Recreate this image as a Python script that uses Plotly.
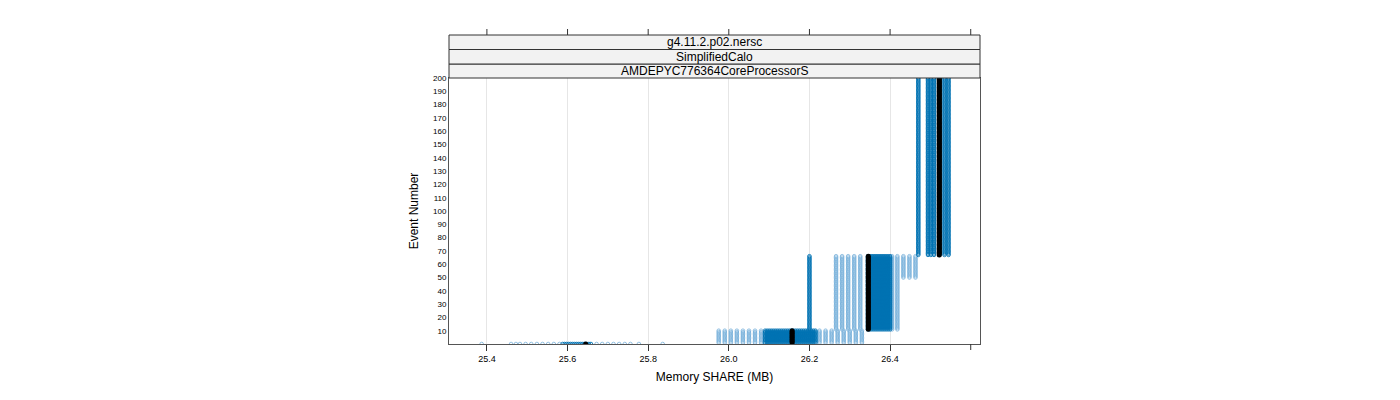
import plotly.graph_objects as go

# ---- data (Event Number vs Memory SHARE in MB) ----
# Each block: every event in [first, last] has a point at each listed x level.
# "sparse" levels are the thinly populated memory values (drawn lighter),
# "dense" levels are the heavily populated ones.
block_a_events = [0, 0]
block_a_sparse_x = [25.387, 25.460, 25.472, 25.482, 25.496, 25.510, 25.524, 25.538,
                    25.552, 25.566, 25.580, 25.672, 25.686, 25.700, 25.714, 25.728,
                    25.742, 25.756, 25.777, 25.836]
block_a_dense_x = [25.588, 25.593, 25.598, 25.603, 25.608, 25.613, 25.618, 25.623,
                   25.628, 25.633, 25.638, 25.643, 25.648, 25.653, 25.658]

block_b_events = [1, 10]
block_b_sparse_x = [25.975, 25.990, 26.005, 26.020, 26.035, 26.050, 26.065, 26.080,
                    26.225, 26.240, 26.255, 26.270, 26.285, 26.300, 26.315, 26.330]
block_b_dense_x = [26.090, 26.095, 26.100, 26.105, 26.110, 26.115, 26.120, 26.125,
                   26.130, 26.135, 26.140, 26.145, 26.150, 26.155, 26.160, 26.165,
                   26.170, 26.175, 26.180, 26.185, 26.190, 26.195, 26.200, 26.205,
                   26.210, 26.215]

block_c_events = [11, 66]
block_c_sparse_x = [26.266, 26.281, 26.296, 26.311, 26.326, 26.405, 26.418]
block_c_dense_x = [26.200, 26.345, 26.350, 26.355, 26.360, 26.365, 26.370, 26.375,
                   26.380, 26.385, 26.390, 26.395, 26.400]

block_c2_events = [50, 66]
block_c2_sparse_x = [26.433, 26.448, 26.463]

block_d_events = [67, 200]
block_d_dense_x = [26.470, 26.494, 26.501, 26.509, 26.523, 26.535, 26.545]

# medians (black): event range and x value
median_events = [[0, 0], [1, 10], [11, 66], [67, 200]]
median_x = [25.645, 26.157, 26.346, 26.522]

x_ticks = [25.4, 25.6, 25.8, 26.0, 26.2, 26.4]
x_tick_labels = ["25.4", "25.6", "25.8", "26.0", "26.2", "26.4"]
top_ticks = [25.4, 25.6, 25.8, 26.0, 26.2, 26.4, 26.6]
y_ticks = list(range(10, 201, 10))
strip_labels = ["g4.11.2.p02.nersc", "SimplifiedCalo", "AMDEPYC776364CoreProcessorS"]


def expand(blocks):
    xs, ys = [], []
    for (e0, e1), levels in blocks:
        for ev in range(e0, e1 + 1):
            for xv in levels:
                xs.append(xv)
                ys.append(ev)
    return xs, ys


sx, sy = expand([(block_a_events, block_a_sparse_x), (block_b_events, block_b_sparse_x),
                 (block_c_events, block_c_sparse_x), (block_c2_events, block_c2_sparse_x)])
dx, dy = expand([(block_a_events, block_a_dense_x), (block_b_events, block_b_dense_x),
                 (block_c_events, block_c_dense_x), (block_d_events, block_d_dense_x)])
mx, my = expand([(e, [xv]) for e, xv in zip(median_events, median_x)])

BLUE = "#0072B2"
LIGHT = "#78b1da"
fig = go.Figure()
fig.add_trace(go.Scatter(x=sx, y=sy, mode="markers", showlegend=False, cliponaxis=True,
                         marker=dict(symbol="circle-open", size=3.6, color=LIGHT,
                                     line=dict(width=0.8, color=LIGHT))))
fig.add_trace(go.Scatter(x=dx, y=dy, mode="markers", showlegend=False, cliponaxis=True,
                         marker=dict(symbol="circle-open", size=3.6, color=BLUE,
                                     line=dict(width=0.9, color=BLUE))))
fig.add_trace(go.Scatter(x=mx, y=my, mode="markers", showlegend=False, cliponaxis=True,
                         marker=dict(symbol="circle", size=5, color="black")))

L, R, T, B = 449, 980, 78, 344
H = B - T


def py(pix):
    return (B - pix) / H


FONT = "Liberation Sans, Arial, sans-serif"
shapes = []
bounds = [78, 64, 49.5, 35]
for i in range(3):
    shapes.append(dict(type="rect", xref="paper", yref="paper", x0=0, x1=1,
                       y0=py(bounds[i]), y1=py(bounds[i + 1]),
                       fillcolor="#f2f2f2", line=dict(color="#333333", width=1), layer="above"))
for t in top_ticks:
    shapes.append(dict(type="line", xref="x", yref="paper", x0=t, x1=t,
                       y0=py(35), y1=py(29), line=dict(color="#333333", width=1)))
shapes.append(dict(type="line", xref="x", yref="paper", x0=26.6, x1=26.6,
                   y0=0, y1=py(350), line=dict(color="#333333", width=1)))

annotations = []
for i, lab in enumerate(strip_labels):
    annotations.append(dict(text=lab, xref="paper", yref="paper", x=0.5,
                            y=(py(bounds[2 - i]) + py(bounds[3 - i])) / 2,
                            showarrow=False, font=dict(family=FONT, size=12, color="black"),
                            xanchor="center", yanchor="middle"))

fig.update_layout(
    width=1400, height=400,
    margin=dict(l=L, r=1400 - R, t=T, b=400 - B, pad=0),
    paper_bgcolor="white", plot_bgcolor="white",
    font=dict(family=FONT, color="black"),
    shapes=shapes, annotations=annotations,
    xaxis=dict(range=[25.306, 26.623], tickvals=x_ticks, ticktext=x_tick_labels,
               ticks="outside", ticklen=6, tickcolor="#333333",
               tickfont=dict(size=9), showgrid=True, gridcolor="#e6e6e6",
               showline=True, linecolor="#555555", linewidth=1, mirror=True,
               zeroline=False,
               title=dict(text="Memory SHARE (MB)", font=dict(size=12), standoff=9)),
    yaxis=dict(range=[0, 200], tickvals=y_ticks, ticks="", tickfont=dict(size=8),
               showgrid=False, showline=True, linecolor="#555555", linewidth=1,
               mirror=True, zeroline=False,
               title=dict(text="Event Number", font=dict(size=12), standoff=11)),
)

fig.write_html("out.html")
